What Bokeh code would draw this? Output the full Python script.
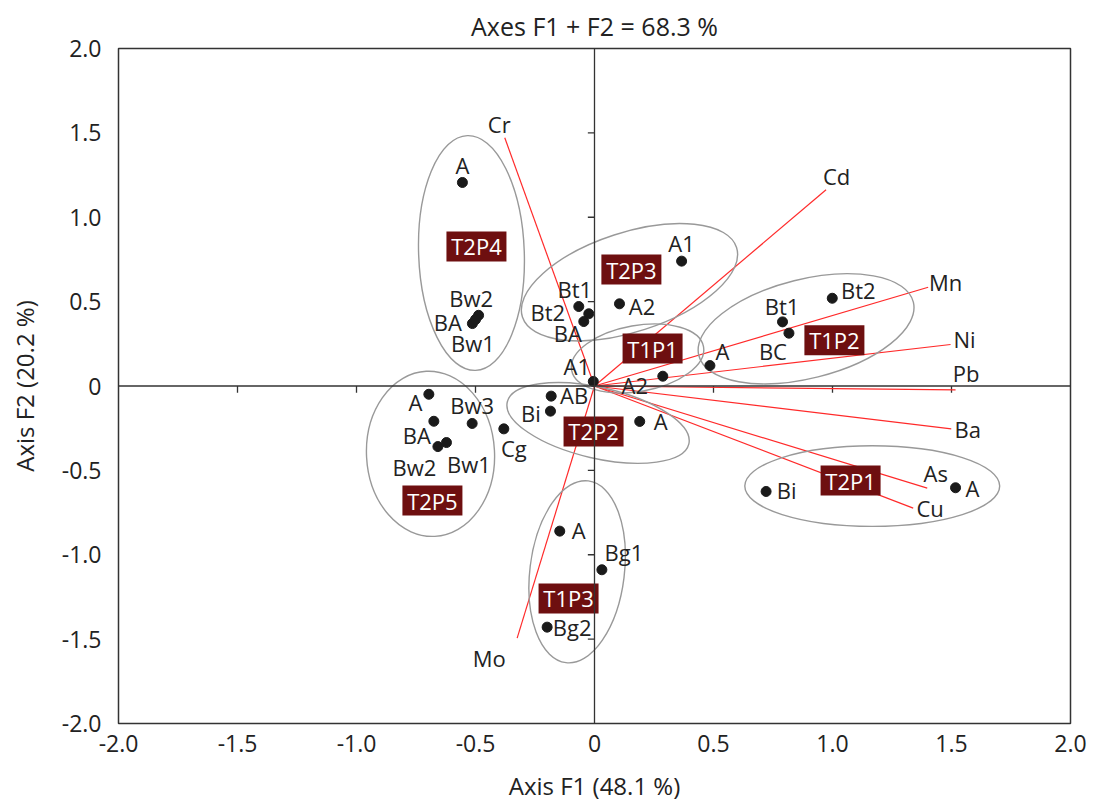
from bokeh.plotting import figure
from bokeh.models import ColumnDataSource, Span, FixedTicker, CustomJSTickFormatter, Range1d
from bokeh.core.properties import value
from bokeh.embed import file_html
from bokeh.resources import INLINE
import math

# ---------------- data ----------------
# observations (horizons) per profile: scores on F1, F2
obs_profile = ["T2P4", "T2P4", "T2P4", "T2P4",
               "T2P3", "T2P3", "T2P3", "T2P3", "T2P3",
               "T1P1", "T1P1",
               "T1P2", "T1P2", "T1P2", "T1P2",
               "T2P2", "T2P2", "T2P2",
               "T2P5", "T2P5", "T2P5", "T2P5", "T2P5", "T2P5",
               "T1P3", "T1P3", "T1P3",
               "T2P1", "T2P1"]
obs_label = ["A", "Bw2", "BA", "Bw1",
             "A1", "A2", "Bt1", "Bt2", "BA",
             "A1", "A2",
             "A", "Bt1", "BC", "Bt2",
             "AB", "Bi", "A",
             "A", "BA", "Bw3", "Bw2", "Bw1", "Cg",
             "A", "Bg1", "Bg2",
             "Bi", "A"]
obs_f1 = [-0.555, -0.487, -0.513, -0.500,
          0.366, 0.105, -0.066, -0.024, -0.045,
          -0.005, 0.287,
          0.485, 0.790, 0.817, 0.999,
          -0.182, -0.185, 0.190,
          -0.696, -0.675, -0.514, -0.658, -0.622, -0.381,
          -0.146, 0.031, -0.199,
          0.721, 1.517]
obs_f2 = [1.206, 0.419, 0.370, 0.394,
          0.740, 0.487, 0.471, 0.428, 0.382,
          0.027, 0.058,
          0.121, 0.380, 0.313, 0.520,
          -0.060, -0.149, -0.210,
          -0.049, -0.209, -0.222, -0.359, -0.335, -0.254,
          -0.860, -1.089, -1.429,
          -0.625, -0.603]

# variables (loadings)
var_names = ["Cr", "Cd", "Mn", "Ni", "Pb", "Ba", "As", "Cu", "Mo"]
var_f1 = [-0.377, 0.973, 1.402, 1.496, 1.517, 1.499, 1.398, 1.339, -0.325]
var_f2 = [1.471, 1.163, 0.585, 0.246, -0.023, -0.254, -0.605, -0.724, -1.494]

# profile groups: ellipses and label positions
groups = ["T2P4", "T2P3", "T1P1", "T1P2", "T2P2", "T2P5", "T1P3", "T2P1"]
ell_f1 = [-0.517, 0.147, 0.181, 0.889, 0.015, -0.689, -0.073, 1.167]
ell_f2 = [0.788, 0.615, 0.163, 0.339, -0.219, -0.402, -1.101, -0.593]
ell_w = [0.444, 0.946, 0.563, 0.929, 0.783, 0.538, 0.397, 1.071]
ell_h = [1.393, 0.589, 0.391, 0.587, 0.420, 0.980, 1.085, 0.478]
ell_angle_deg = [2, 18, 10, 14, -13, 3, -7, 0]
grp_lab_f1 = [-0.496, 0.155, 0.244, 1.008, -0.004, -0.681, -0.109, 1.076]
grp_lab_f2 = [0.827, 0.690, 0.222, 0.271, -0.269, -0.679, -1.259, -0.560]

ticks = [-2.0, -1.5, -1.0, -0.5, 0.0, 0.5, 1.0, 1.5, 2.0]

title_text = "Axes F1 + F2 = 68.3 %"
xlabel_text = "Axis F1 (48.1 %)"
ylabel_text = "Axis F2 (20.2 %)"

# label placement (screen px offsets from the point, layout only)
obs_dx = [0, -7.5, -24.5, -2.5,
          0, 22.5, -4, -41, -16,
          -16.5, -28,
          12.5, -0.5, -16, 26,
          23, -19.5, 21,
          -13.5, -17, 0, -23.5, 22.5, 10,
          19, 22, 25,
          20.5, 17]
obs_dy = [-17, -17, -2, 23.5,
          -18.5, 2, -17.5, -1.5, 11.5,
          -15, 9,
          -15, -16, 18, -8.5,
          -1, 2, 0,
          7.5, 14, -18, 20.5, 21.5, 19,
          -1, -18, 0,
          -1.5, 0]
var_dx = [-5.5, 10.5, 17.5, 14, 10.5, 16.5, 8.5, 17, -28]
var_dy = [-13.5, -13.5, -5.5, -5.5, -17, 0.5, -15.5, -0.5, 19.5]

FONT = "Open Sans"
TXT = "#222222"

p = figure(width=1100, height=805, output_backend="svg", toolbar_location=None,
           x_range=Range1d(-2, 2), y_range=Range1d(-2, 2),
           min_border_left=118, min_border_right=30, min_border_top=48, min_border_bottom=82,
           title=title_text)
p.title.align = "center"
p.title.text_font = FONT
p.title.text_font_size = "25px"
p.title.text_font_style = "normal"
p.title.text_color = TXT
p.title.standoff = 12

p.grid.visible = False
p.outline_line_color = "#333333"
p.outline_line_width = 1.5
p.background_fill_color = "white"
p.border_fill_color = "white"

fmt = CustomJSTickFormatter(code='return tick == 0 ? "0" : tick.toFixed(1);')
for ax in (p.xaxis[0], p.yaxis[0]):
    ax.ticker = FixedTicker(ticks=ticks)
    ax.formatter = fmt
    ax.axis_line_color = None
    ax.major_tick_line_color = None
    ax.minor_tick_line_color = None
    ax.major_tick_out = 0
    ax.major_tick_in = 0
    ax.major_label_text_font = FONT
    ax.major_label_text_font_size = "23px"
    ax.major_label_text_color = TXT
    ax.axis_label_text_font = FONT
    ax.axis_label_text_font_size = "24px"
    ax.axis_label_text_font_style = "normal"
    ax.axis_label_text_color = TXT
p.xaxis.axis_label = xlabel_text
p.yaxis.axis_label = ylabel_text
p.xaxis.major_label_standoff = 11
p.yaxis.major_label_standoff = 17
p.xaxis.axis_label_standoff = 14
p.yaxis.axis_label_standoff = 18

# central axes
p.add_layout(Span(location=0, dimension="width", line_color="#333333", line_width=1.3))
p.add_layout(Span(location=0, dimension="height", line_color="#333333", line_width=1.3))
inner = [t for t in ticks if t not in (-2.0, 0.0, 2.0)]
tick_len_y = 0.04
tick_len_x = 0.028
p.segment(x0=inner, y0=[0] * len(inner), x1=inner, y1=[-tick_len_y] * len(inner),
          line_color="#333333", line_width=1.3)
p.segment(x0=[0] * len(inner), y0=inner, x1=[-tick_len_x] * len(inner), y1=inner,
          line_color="#333333", line_width=1.3)

# variable vectors
vsrc = ColumnDataSource(dict(x0=[0] * len(var_names), y0=[0] * len(var_names),
                             x1=var_f1, y1=var_f2, name=var_names, dx=var_dx, dy=var_dy))
p.segment(x0="x0", y0="y0", x1="x1", y1="y1", source=vsrc, line_color="#ff2a2a", line_width=1.2)

# ellipses
esrc = ColumnDataSource(dict(x=ell_f1, y=ell_f2, w=ell_w, h=ell_h,
                             a=[math.radians(v) for v in ell_angle_deg]))
p.ellipse(x="x", y="y", width="w", height="h", angle="a", source=esrc,
          fill_color=None, line_color="#999999", line_width=1.4)

# points
osrc = ColumnDataSource(dict(x=obs_f1, y=obs_f2, lab=obs_label, prof=obs_profile,
                             dx=obs_dx, dy=obs_dy))
p.scatter(x="x", y="y", source=osrc, size=10, fill_color="#1a1a1a", line_color="#1a1a1a")
p.text(x="x", y="y", text="lab", source=osrc, x_offset="dx", y_offset="dy",
       text_align="center", text_baseline="middle", text_font=value(FONT),
       text_font_size="22px", text_color=TXT)
p.text(x="x1", y="y1", text="name", source=vsrc, x_offset="dx", y_offset="dy",
       text_align="center", text_baseline="middle", text_font=value(FONT),
       text_font_size="22px", text_color=TXT)

# group boxes
gsrc = ColumnDataSource(dict(x=grp_lab_f1, y=grp_lab_f2, g=groups))
p.rect(x="x", y="y", width=60, height=30, width_units="screen", height_units="screen",
       source=gsrc, fill_color="#6e0f10", line_color=None)
p.text(x="x", y="y", text="g", source=gsrc, text_align="center", text_baseline="middle",
       text_font=value(FONT), text_font_size="22px", text_color="white")

open("out.html", "w").write(file_html(p, INLINE))
